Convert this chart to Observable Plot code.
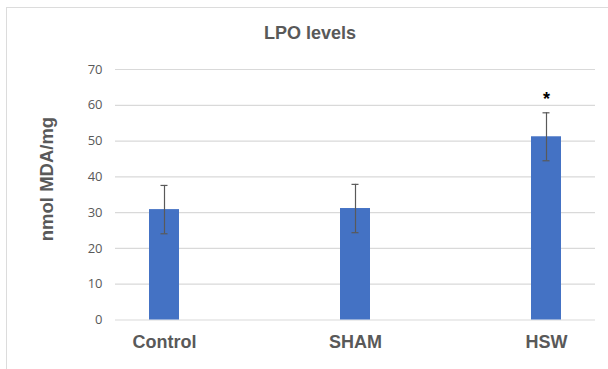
<!DOCTYPE html>
<html>
<head>
<meta charset="utf-8">
<script src="https://cdn.jsdelivr.net/npm/d3@7"></script>
<script src="https://cdn.jsdelivr.net/npm/@observablehq/plot@0.6"></script>
<style>
  html, body { margin: 0; padding: 0; background: #fff; }
  #wrap { position: relative; width: 608px; height: 369px; overflow: hidden; background: #fff; }
  #frame { position: absolute; left: 6px; top: 7px; width: 640px; height: 400px; border: 1.5px solid #dcdcdc; box-sizing: border-box; }
  #title { position: absolute; left: 210px; width: 200px; top: 22.5px; line-height: 18px; text-align: center;
           font: bold 18px "Liberation Sans", Arial, sans-serif; color: #595959; }
  #ylabel { position: absolute; left: 47px; top: 179px; transform: translate(-50%, -50%) rotate(-90deg);
            white-space: nowrap; font: bold 18.5px "Liberation Sans", Arial, sans-serif; color: #595959; line-height: 1; }
  #chart { position: absolute; left: 0; top: 0; }
</style>
</head>
<body>
<div id="wrap">
  <div id="frame"></div>
  <div id="chart"></div>
  <div id="title">LPO levels</div>
  <div id="ylabel">nmol MDA/mg</div>
</div>
<script>
const groups = ["Control", "SHAM", "HSW"];
const means = [30.85, 31.15, 51.2];
const errors = [6.75, 6.75, 6.7];
const significance = ["", "", "*"];
const yTicks = [0, 10, 20, 30, 40, 50, 60, 70];

const data = groups.map((g, i) => ({
  group: g, value: means[i], lo: means[i] - errors[i], hi: means[i] + errors[i], sig: significance[i]
}));

const chart = Plot.plot({
  width: 608,
  height: 369,
  marginTop: 69,
  marginBottom: 49.5,
  marginLeft: 115,
  marginRight: 13,
  style: { background: "transparent", overflow: "visible" },
  x: { domain: groups, paddingInner: 0.843, paddingOuter: 0.175, label: null },
  y: { domain: [0, 70], label: null },
  marks: [
    Plot.ruleY(yTicks, { stroke: "#d9d9d9", strokeWidth: 1.2 }),
    Plot.barY(data, { x: "group", y: "value", fill: "#4472C4" }),
    Plot.ruleX(data, { x: "group", y1: "lo", y2: "hi", stroke: "#595959", strokeWidth: 1.2 }),
    Plot.tickY(data, { x: "group", y: "lo", stroke: "#595959", strokeWidth: 1.2, insetLeft: 11.5, insetRight: 11.5 }),
    Plot.tickY(data, { x: "group", y: "hi", stroke: "#595959", strokeWidth: 1.2, insetLeft: 11.5, insetRight: 11.5 }),
    Plot.text(data.filter(d => d.sig), { x: "group", y: "hi", text: "sig", dy: -14, fontSize: 18, fontWeight: "bold",
      fontFamily: "Liberation Sans, Arial, sans-serif", fill: "#000" }),
    Plot.axisY({ ticks: yTicks, tickSize: 0, tickPadding: 13, fontSize: 13, fontFamily: "Open Sans, sans-serif",
      fill: "#595959", label: null }),
    Plot.axisX({ tickSize: 0, tickPadding: 15.4, fontSize: 18, fontWeight: "bold",
      fontFamily: "Liberation Sans, Arial, sans-serif", fill: "#595959", label: null })
  ]
});
document.getElementById("chart").appendChild(chart);
</script>
</body>
</html>
